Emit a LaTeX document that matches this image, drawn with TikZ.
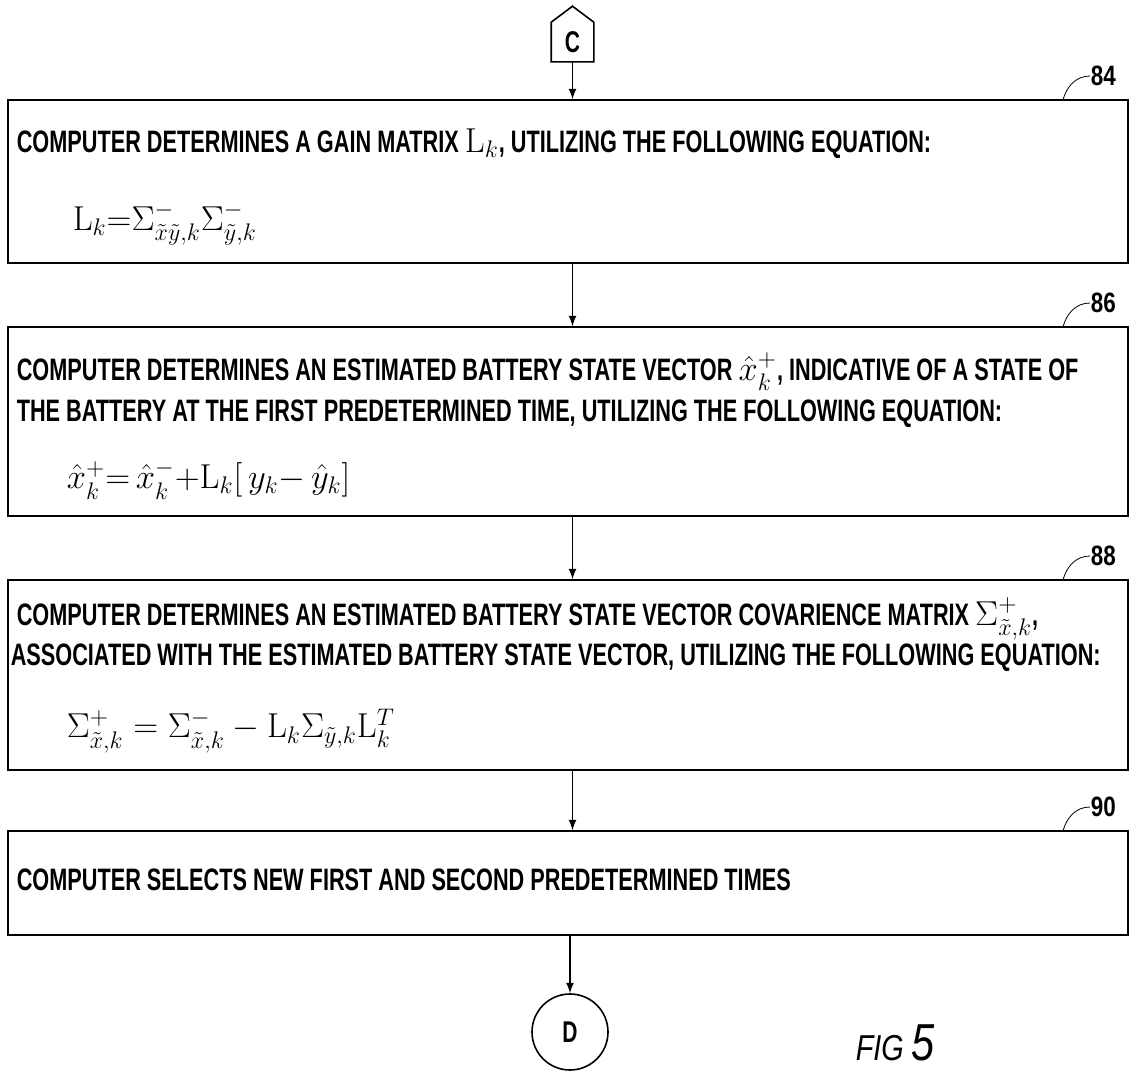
\documentclass[tikz,border=0pt]{standalone}
\usepackage[no-math]{fontspec}
\usepackage{amsmath}
\usepackage{tikz}
\usetikzlibrary{arrows}
\newfontfamily\patentfont{Liberation Sans}[FakeStretch=0.70]
\newfontfamily\reffont{Liberation Sans}[FakeStretch=0.80]
\newcommand{\eqsize}{\fontsize{18}{21}\selectfont}

\tikzset{
  procbox/.style={draw=black, minimum width=560pt, inner sep=0pt},
  steptext/.style={anchor=west, inner sep=0pt, font=\patentfont\bfseries\fontsize{15.5}{17}\selectfont},
  eqtext/.style={anchor=west, inner sep=0pt, font=\eqsize},
  reflabel/.style={anchor=west, inner sep=0pt, font=\reffont\bfseries\fontsize{14}{16}\selectfont},
  flowarrow/.style={-latex, thick}
}

\begin{document}
\begin{tikzpicture}[thick, x=0.5pt, y=-0.5pt]
  \useasboundingbox (0,0) rectangle (1132,1072);
  % off-page connectors
  \node[minimum width=20.5pt, minimum height=19pt, inner sep=0pt,
        font=\patentfont\bfseries\fontsize{15}{16}\selectfont] (C) at (572.5,42) {C};
  \draw (C.south west) -- (C.north west) -- ([yshift=8pt]C.north) -- (C.north east) -- (C.south east) -- cycle;
  \node[circle, draw, minimum size=38pt, inner sep=0pt,
        font=\patentfont\bfseries\fontsize{15}{16}\selectfont] (D) at (570,1032) {D};
  % process boxes
  \node[procbox, minimum height=81.5pt] (b84) at (568,181.5) {};
  \node[procbox, minimum height=94.5pt] (b86) at (568,421.5) {};
  \node[procbox, minimum height=95pt]   (b88) at (568,675) {};
  \node[procbox, minimum height=52pt]   (b90) at (568,883) {};
  % texts
  \node[steptext] (t84) at (16,144) {COMPUTER DETERMINES A GAIN MATRIX {\eqsize$\mathrm{L}_k$}, UTILIZING THE FOLLOWING EQUATION:};
  \node[eqtext] (e84) at (72,224) {$\mathrm{L}_k{=}\Sigma^{-}_{\tilde{x}\tilde{y},k}\Sigma^{-}_{\tilde{y},k}$};
  \node[steptext] (t86a) at (16,372) {COMPUTER DETERMINES AN ESTIMATED BATTERY STATE VECTOR {\eqsize$\hat{x}^{+}_{k}$}, INDICATIVE OF A STATE OF};
  \node[steptext] (t86b) at (16,414) {THE BATTERY AT THE FIRST PREDETERMINED TIME, UTILIZING THE FOLLOWING EQUATION:};
  \node[eqtext] (e86) at (66,480) {$\hat{x}^{+}_{k}{=}\,\hat{x}^{-}_{k}{+}\mathrm{L}_k[\,y_k{-}\,\hat{y}_k]$};
  \node[steptext] (t88a) at (16,619) {COMPUTER DETERMINES AN ESTIMATED BATTERY STATE VECTOR COVARIENCE MATRIX {\eqsize$\Sigma^{+}_{\tilde{x},k}$},};
  \node[steptext] (t88b) at (10,658) {ASSOCIATED WITH THE ESTIMATED BATTERY STATE VECTOR, UTILIZING THE FOLLOWING EQUATION:};
  \node[eqtext] (e88) at (66,731) {$\Sigma^{+}_{\tilde{x},k}=\Sigma^{-}_{\tilde{x},k}-\mathrm{L}_k\Sigma_{\tilde{y},k}\mathrm{L}_k^{T}$};
  \node[steptext] (t90) at (16,880) {COMPUTER SELECTS NEW FIRST AND SECOND PREDETERMINED TIMES};
  % reference numerals
  \foreach \n/\y in {84/100, 86/327, 88/580, 90/831} {
    \node[reflabel] (l\n) at (1090,\y-24) {\n};
    \coordinate (c\n) at (1063,\y);
    \draw[thin] (c\n) to[out=75,in=180] (l\n.west);
  }
  % flow
  \draw[flowarrow] (C.south) -- (C.south |- b84.north);
  \draw[flowarrow] (C.south |- b84.south) -- (C.south |- b86.north);
  \draw[flowarrow] (C.south |- b86.south) -- (C.south |- b88.north);
  \draw[flowarrow] (C.south |- b88.south) -- (C.south |- b90.north);
  \draw[flowarrow] (D.north |- b90.south) -- (D.north);
  \node[anchor=base west, inner sep=0pt, font=\reffont\itshape\fontsize{18}{20}\selectfont] (fig) at (855,1060)
    {FIG {\fontsize{26}{28}\selectfont 5}};
\end{tikzpicture}
\end{document}
